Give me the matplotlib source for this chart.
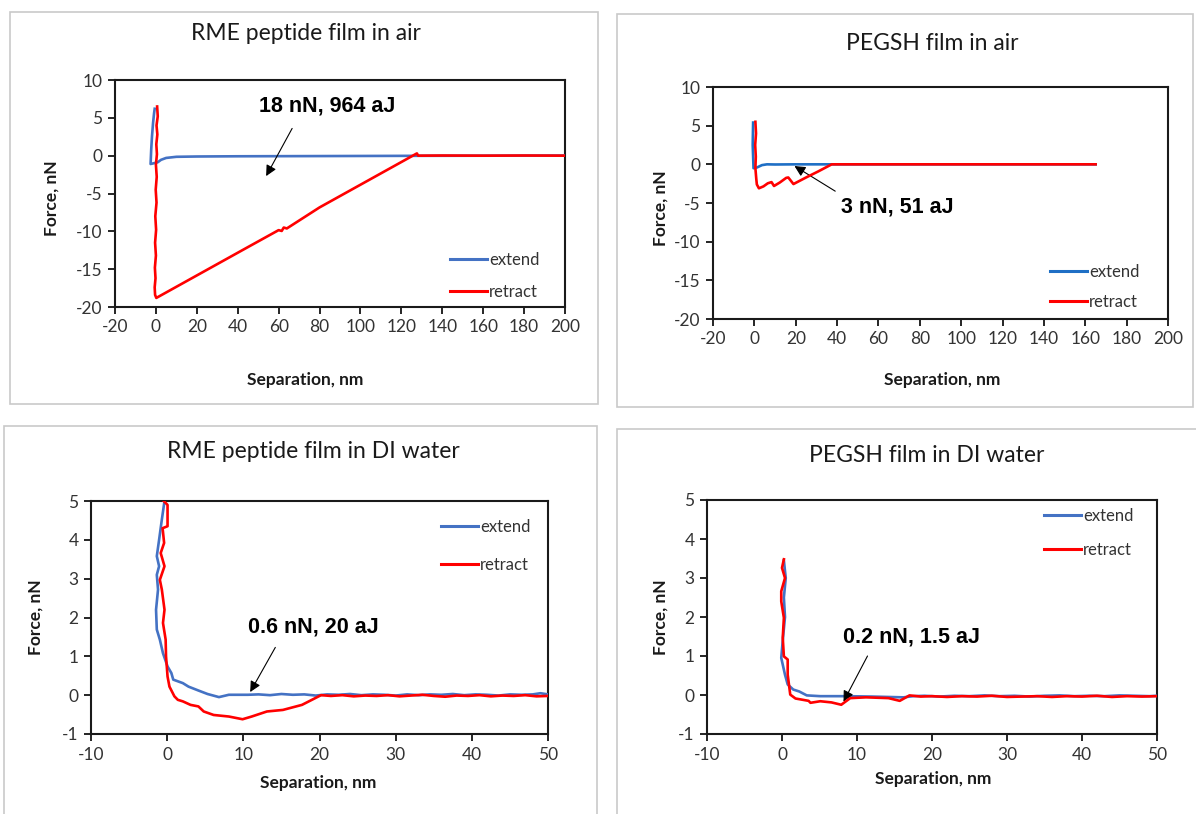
import matplotlib
matplotlib.use("Agg")
import matplotlib.pyplot as plt
from matplotlib.patches import Rectangle

plt.rcParams["axes.unicode_minus"] = False

W, H = 1196, 814

# ---------------- data ----------------
# Panel 1: RME peptide film in air
p1_ext_x = [200, 170, 128, 100, 70, 40, 20, 10, 5, 2.5, 0.9, -1.0, -2.6, -2.3, -1.9, -1.4, -0.9, -0.6]
p1_ext_y = [0.02, 0.0, -0.02, -0.04, -0.06, -0.08, -0.11, -0.15, -0.3, -0.55, -0.87, -1.0, -1.1, 0.8, 2.6, 4.3, 5.6, 6.2]
p1_ret_x = [0.6, 0.9, 0.3, 0.7, 0.2, 0.5, 0.0, 0.4, -0.1, 0.3, -0.3, 0.1, -0.4, 0.0, -0.5, -0.2, -0.6, -0.4, 0.2,
            15, 30, 45, 60, 61.5, 62.5, 64, 80, 100, 115, 127.6, 128.2, 140, 160, 180, 200]
p1_ret_y = [6.5, 5.2, 4.0, 2.8, 1.5, 0.2, -1.2, -2.8, -4.5, -6.2, -8.0, -9.8, -11.5, -13.2, -14.8, -16.2, -17.4, -18.4, -18.8,
            -16.58, -14.33, -12.08, -9.84, -9.95, -9.5, -9.62, -6.84, -3.84, -1.59, 0.3, 0.0, 0.02, 0.0, 0.02, 0.0]

# Panel 2: PEGSH film in air
p2_ext_x = [165, 120, 80, 40, 20, 10, 6.1, 3.7, 1.3, -0.4, -0.6, -0.8, -0.7, -0.6]
p2_ext_y = [0.0, 0.0, 0.0, 0.0, 0.0, -0.02, 0.0, -0.1, -0.4, -0.5, 1.0, 2.5, 4.0, 5.4]
p2_ret_x = [0.5, 0.8, 0.4, 0.7, 0.5, 0.9, 1.2, 2.2, 4.4, 6.5, 8.3, 9.5, 12.3, 15.4, 16.4, 18.9, 25, 31, 37.4, 60, 100, 140, 165]
p2_ret_y = [5.5, 4.0, 2.5, 1.0, -0.5, -1.8, -2.6, -3.1, -2.85, -2.45, -2.3, -2.8, -2.35, -1.75, -1.7, -2.55, -1.7, -0.9, 0.0, 0.0, 0.0, 0.0, 0.0]

# Panel 3: RME peptide film in DI water
p3_ext_x = [-0.35, -0.7, -1.06, -1.36, -1.06, -1.36, -1.2, -1.46, -1.36, -0.96, -0.55, 0.05, 0.55, 0.8, 2.06, 2.8, 4.1, 5.3, 6.8, 8.1, 10.6,
            12, 13.5, 15, 16.5, 18, 19.5, 21, 22.5, 24, 25.5, 27, 28.5, 30, 31.5, 33, 34.5, 36, 37.5, 39, 40.5, 42, 43.5, 45, 46.5, 48, 49, 50]
p3_ext_y = [5.0, 4.52, 4.0, 3.58, 3.32, 3.1, 2.72, 2.2, 1.69, 1.43, 1.08, 0.74, 0.57, 0.40, 0.31, 0.22, 0.12, 0.03, -0.05, 0.01, 0.01,
            0.02, 0.0, 0.03, 0.01, 0.02, -0.01, 0.02, 0.01, 0.03, 0.0, 0.02, 0.01, -0.01, 0.02, 0.0, 0.02, 0.01, 0.03, 0.0, 0.02, 0.01, -0.01, 0.02, 0.01, 0.02, 0.05, 0.02]
p3_ret_x = [-0.45, 0.05, 0.05, -0.6, -0.4, -0.85, -0.35, -0.96, -0.7, -0.35, -0.55, -0.2, -0.15, 0.05, 0.3, 0.95, 1.4, 2.06, 3.07, 4.1, 4.8, 6.1, 8.1, 9.9, 11.1, 13.1, 15.2, 17.7, 20.2,
            21.5, 23, 24.5, 26, 27.5, 29, 30.5, 32, 33.5, 35, 36.5, 38, 39.5, 41, 42.5, 44, 45.5, 47, 48.5, 50]
p3_ret_y = [5.0, 4.9, 4.35, 4.3, 3.92, 3.66, 3.32, 2.97, 2.72, 2.2, 1.86, 1.43, 1.0, 0.48, 0.22, -0.03, -0.12, -0.16, -0.25, -0.29, -0.42, -0.51, -0.55, -0.62, -0.55, -0.42, -0.38, -0.25, 0.0,
            -0.02, 0.0, -0.03, -0.01, -0.02, 0.0, -0.03, -0.01, 0.01, -0.02, -0.04, -0.01, -0.02, 0.0, -0.03, -0.01, -0.02, 0.0, -0.03, -0.02]

# Panel 4: PEGSH film in DI water
p4_ext_x = [0.25, 0.5, 0.25, 0.4, 0.1, -0.1, 0.4, 0.76, 1.5, 2.3, 3.3, 5.1, 8.6, 12, 16.2,
            17.5, 19, 21, 23, 25, 27, 29, 31, 33, 35, 37, 39, 41, 43, 45, 47, 49, 50]
p4_ext_y = [3.45, 3.0, 2.5, 2.0, 1.4, 0.95, 0.52, 0.27, 0.14, 0.09, -0.01, -0.03, -0.03, -0.04, -0.06,
            -0.03, -0.02, -0.04, -0.02, -0.03, -0.01, -0.03, -0.02, -0.04, -0.02, -0.01, -0.03, -0.02, -0.03, -0.01, -0.02, -0.03, -0.02]
p4_ret_x = [0.25, 0.0, 0.4, -0.1, -0.1, 0.25, 0.1, 0.25, 0.76, 0.76, 1.1, 1.8, 3.55, 3.8, 5.1, 6.6, 7.9, 9.1, 11.2, 14.2, 15.7, 17.0,
            18.5, 20, 22, 24, 26, 28, 30, 32, 34, 36, 38, 40, 42, 44, 46, 48, 50]
p4_ret_y = [3.48, 3.26, 3.0, 2.66, 2.4, 1.98, 1.47, 0.99, 0.91, 0.52, 0.01, -0.09, -0.15, -0.2, -0.16, -0.19, -0.25, -0.08, -0.06, -0.08, -0.15, -0.01,
            -0.04, -0.03, -0.05, -0.03, -0.04, -0.02, -0.05, -0.04, -0.03, -0.05, -0.03, -0.04, -0.02, -0.05, -0.03, -0.04, -0.03]

titles = ["RME peptide film in air", "PEGSH film in air",
          "RME peptide film in DI water", "PEGSH film in DI water"]
annotations = ["18 nN, 964 aJ", "3 nN, 51 aJ", "0.6 nN, 20 aJ", "0.2 nN, 1.5 aJ"]
series_names = ["extend", "retract"]
x_label = "Separation, nm"
y_label = "Force, nN"

# ---------------- layout (pixels) ----------------
def fx(px):
    return px / W

def fy(py):
    return 1 - py / H

panels = [
    dict(ext=(p1_ext_x, p1_ext_y), ret=(p1_ret_x, p1_ret_y), box=(115, 565, 80, 307),
         xlim=(-20, 200), xstep=20, ylim=(-20, 10), ystep=5,
         frame=(10, 12, 598, 404), title=(306, 33), xl=(305, 380), yl=(52, 198),
         ann_text=(83.7, 6.6), ann_tail=(66.6, 3.6), ann_head=(53.9, -2.7),
         leg=(450, 276), legsp=0.95, ext_color="#4472C4"),
    dict(ext=(p2_ext_x, p2_ext_y), ret=(p2_ret_x, p2_ret_y), box=(713, 1168, 87, 319),
         xlim=(-20, 200), xstep=20, ylim=(-20, 10), ystep=5,
         frame=(617, 14, 1193, 407), title=(932, 43), xl=(942, 380), yl=(661, 208),
         ann_text=(68.9, -5.55), ann_tail=(39.1, -3.47), ann_head=(19.4, -0.22),
         leg=(1050, 287), legsp=0.85, ext_color="#1F6FC5"),
    dict(ext=(p3_ext_x, p3_ext_y), ret=(p3_ret_x, p3_ret_y), box=(91, 548, 501, 734),
         xlim=(-10, 50), xstep=10, ylim=(-1, 5), ystep=1,
         frame=(4, 426, 597, 830), title=(313, 451), xl=(318, 783), yl=(36, 617),
         ann_text=(19.2, 1.76), ann_tail=(14.2, 1.23), ann_head=(10.9, 0.08),
         leg=(441, 546), legsp=1.35, ext_color="#4472C4"),
    dict(ext=(p4_ext_x, p4_ext_y), ret=(p4_ret_x, p4_ret_y), box=(707, 1157, 500, 734),
         xlim=(-10, 50), xstep=10, ylim=(-1, 5), ystep=1,
         frame=(617, 429, 1210, 830), title=(927, 455), xl=(933, 779), yl=(661, 617),
         ann_text=(17.2, 1.5), ann_tail=(11.4, 1.0), ann_head=(8.2, -0.17),
         leg=(1044, 533), legsp=1.1, ext_color="#4472C4"),
]

BODY = ["Lato", "DejaVu Sans"]
ANN = ["Liberation Sans", "DejaVu Sans"]

fig = plt.figure(figsize=(W / 100, H / 100), dpi=100)
fig.patch.set_facecolor("white")

for i, p in enumerate(panels):
    x0, y0, x1, y1 = p["frame"]
    fig.add_artist(Rectangle((fx(x0), fy(y1)), fx(x1) - fx(x0), fy(y0) - fy(y1),
                             transform=fig.transFigure, fill=False,
                             edgecolor="#c9c9c9", linewidth=1.2))
    l, r, t, b = p["box"]
    ax = fig.add_axes([fx(l), fy(b), fx(r) - fx(l), fy(t) - fy(b)])
    ex, ey = p["ext"]
    rx, ry = p["ret"]
    ax.plot(ex, ey, color=p["ext_color"], lw=1.9, label=series_names[0], solid_joinstyle="round", zorder=3)
    ax.plot(rx, ry, color="#FF0000", lw=1.9, label=series_names[1], solid_joinstyle="round", zorder=4)
    ax.set_xlim(*p["xlim"])
    ax.set_ylim(*p["ylim"])
    xs = list(range(p["xlim"][0], p["xlim"][1] + 1, p["xstep"]))
    ys = list(range(p["ylim"][0], p["ylim"][1] + 1, p["ystep"]))
    ax.set_xticks(xs)
    ax.set_yticks(ys)
    ax.tick_params(direction="out", length=5, width=1.2, colors="#000000",
                   labelcolor="#333333", labelsize=12.5, pad=4)
    for lab in ax.get_xticklabels() + ax.get_yticklabels():
        lab.set_family(BODY)
    for s in ax.spines.values():
        s.set_color("#1a1a1a")
        s.set_linewidth(1.5)

    fig.text(fx(p["title"][0]), fy(p["title"][1]), titles[i], ha="center", va="center",
             fontsize=16.5, family=BODY, color="#1a1a1a")
    fig.text(fx(p["xl"][0]), fy(p["xl"][1]), x_label, ha="center", va="center",
             fontsize=12.5, fontweight="bold", family=BODY, color="#1a1a1a")
    fig.text(fx(p["yl"][0]), fy(p["yl"][1]), y_label, ha="center", va="center", rotation=90,
             fontsize=12.5, fontweight="bold", family=BODY, color="#1a1a1a")

    ax.annotate(annotations[i], xy=p["ann_tail"], xycoords="data",
                xytext=p["ann_text"], textcoords="data", ha="center", va="center",
                fontsize=15.5, fontweight="bold", family=ANN, color="black")
    ax.annotate("", xy=p["ann_head"], xytext=p["ann_tail"],
                arrowprops=dict(arrowstyle="-|>", color="black", lw=0.8,
                                mutation_scale=16, shrinkA=0, shrinkB=0))

    leg = ax.legend(loc="center left", bbox_to_anchor=(fx(p["leg"][0]), fy(p["leg"][1])),
                    bbox_transform=fig.transFigure, frameon=False,
                    handlelength=2.2, handletextpad=0.15, borderpad=0, borderaxespad=0,
                    labelspacing=p["legsp"], prop={"family": BODY, "size": 12})
    for line in leg.get_lines():
        line.set_linewidth(2.2)
    for txt in leg.get_texts():
        txt.set_color("#333333")

fig.savefig("out.png", dpi=100, facecolor="white")
